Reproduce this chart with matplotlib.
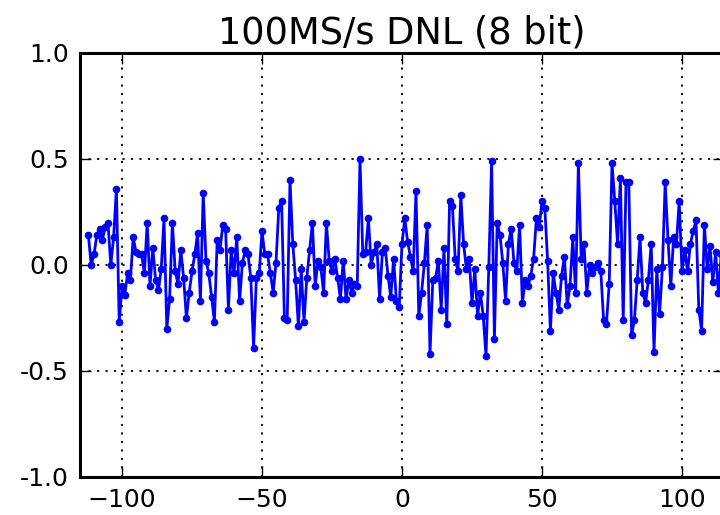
import numpy as np
import matplotlib
matplotlib.use('Agg')
import matplotlib.pyplot as plt

# DNL values per output code
first_code = -112
dnl_lsb = [
    0.14, 0.00, 0.05, 0.14, 0.17, 0.12, 0.18, 0.20, 0.00, 0.13,
    0.36, -0.27, -0.10, -0.14, -0.04, -0.07, 0.13, 0.06, 0.05, 0.05,
    -0.04, 0.20, -0.10, 0.08, -0.07, -0.12, -0.02, 0.22, -0.30, -0.16,
    0.20, -0.03, -0.09, 0.07, -0.06, -0.25, -0.13, -0.03, 0.05, 0.15,
    -0.17, 0.34, 0.02, -0.04, -0.15, -0.27, 0.12, 0.07, 0.19, 0.17,
    -0.21, 0.07, -0.04, 0.13, -0.17, 0.01, 0.07, 0.05, -0.06, -0.39,
    -0.06, -0.04, 0.16, 0.05, 0.05, -0.04, -0.13, 0.01, 0.27, 0.30,
    -0.25, -0.26, 0.40, 0.10, -0.07, -0.29, -0.02, -0.27, -0.06, 0.07,
    0.20, -0.10, 0.02, -0.01, -0.13, 0.20, 0.02, -0.03, 0.03, -0.06,
    -0.16, 0.02, -0.16, -0.07, -0.13, -0.09, -0.10, 0.50, 0.05, 0.06,
    0.22, 0.00, 0.06, 0.10, -0.16, 0.06, 0.08, -0.05, -0.15, 0.03,
    -0.17, -0.20, 0.10, 0.22, 0.11, 0.04, -0.03, 0.35, -0.24, -0.13,
    0.01, 0.19, -0.42, -0.07, -0.06, 0.02, -0.21, 0.08, -0.28, 0.30,
    0.28, 0.03, -0.03, 0.33, 0.10, -0.02, 0.03, -0.18, -0.02, -0.24,
    -0.13, -0.24, -0.43, -0.01, 0.49, -0.35, 0.20, 0.14, 0.01, -0.17,
    0.10, 0.17, 0.01, -0.03, 0.19, -0.18, -0.07, -0.10, -0.05, 0.03,
    0.22, 0.18, 0.30, 0.27, 0.02, -0.31, -0.04, -0.13, -0.21, -0.05,
    0.04, -0.19, -0.10, 0.13, -0.13, 0.48, 0.03, 0.10, -0.13, 0.00,
    -0.04, -0.01, 0.01, -0.03, -0.26, -0.28, -0.09, 0.48, 0.30, 0.10,
    0.41, -0.26, 0.39, 0.39, -0.33, -0.26, -0.07, 0.13, -0.13, -0.18,
    -0.07, 0.10, -0.41, -0.02, -0.23, -0.01, 0.39, 0.12, -0.10, 0.13,
    0.10, 0.30, -0.03, 0.07, -0.03, 0.10, 0.16, 0.21, -0.21, -0.31,
    0.19, -0.02, 0.09, -0.08, 0.06, -0.13, 0.05,
]
codes = np.arange(first_code, first_code + len(dnl_lsb))

x_ticks = [-100, -50, 0, 50, 100]
y_ticks = [-1.0, -0.5, 0.0, 0.5, 1.0]
title = '100MS/s DNL (8 bit)'

fig = plt.figure(figsize=(7.2, 5.15), dpi=100)
# axes runs past the right edge of the picture, like the cropped reference
ax = fig.add_axes([80 / 720, 38 / 515, 644 / 720, 424 / 515])

ax.plot(codes, dnl_lsb, '-o', color='#0000ff', lw=2.0, ms=5.5, mew=0)

ax.set_xlim(-115, 115)
ax.set_ylim(-1.0, 1.0)
ax.set_xticks(x_ticks)
ax.set_yticks(y_ticks)
ax.set_yticklabels(['%.1f' % v for v in y_ticks])
ax.grid(True, color='black', linestyle=(0, (1.2, 3.5)), linewidth=1.3)
ax.tick_params(direction='in', length=8, width=1, labelsize=18, pad=8,
               top=True, right=True)
for sp in ax.spines.values():
    sp.set_linewidth(2.2)
ax.set_title(title, fontsize=26.5, pad=7)

fig.savefig('out.png', dpi=100)
